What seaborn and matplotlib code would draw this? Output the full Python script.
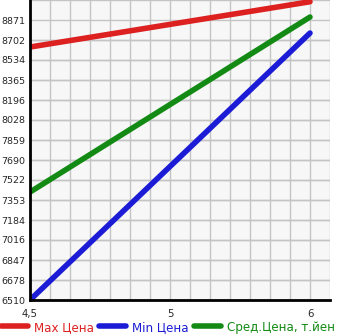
import matplotlib
matplotlib.use("Agg")
import matplotlib.pyplot as plt
import seaborn as sns
import pandas as pd
import numpy as np

# ---- data ----
x_labels = ["4,5", "5", "6"]
x_points = ["4,5", "6"]
max_price = [8643, 9025]
min_price = [6510, 8761]
avg_price = [7420, 8896]
series_names = ["Max Цена", "Min Цена", "Сред.Цена, т.йен"]
y_ticks = [6510, 6678, 6847, 7016, 7184, 7353, 7522, 7690, 7859, 8028,
           8196, 8365, 8534, 8702, 8871]
colors = ["#dd2020", "#1c1cd6", "#138a13"]

rows = []
for name, vals in zip(series_names, [max_price, min_price, avg_price]):
    for p, v in zip(x_points, vals):
        rows.append({"pos": x_labels.index(p), "value": v, "series": name})
df = pd.DataFrame(rows)

sns.set_style("white")
plt.rcParams['font.family'] = ['DejaVu Sans']

fig = plt.figure(figsize=(3.45, 3.35), dpi=100)
ax = fig.add_axes([30/345, 35/335, 300/345, 300/335])
ax.set_facecolor("#f7f7f7")

sns.lineplot(data=df, x="pos", y="value", hue="series", palette=colors,
             hue_order=series_names, linewidth=4, ax=ax, legend=True,
             solid_capstyle="round")

step_y = (y_ticks[-1] - y_ticks[0]) / (len(y_ticks) - 1)
ax.set_ylim(y_ticks[0], y_ticks[0] + step_y * len(y_ticks))
ax.set_xlim(0, 15/7)
ax.set_yticks(y_ticks)
ax.set_yticklabels([str(t) for t in y_ticks], fontsize=6.8)
ax.set_xticks(range(len(x_labels)))
ax.set_xticklabels(x_labels, fontsize=7.3)
ax.set_xticks(np.arange(0, 15/7 + 1e-6, 1/7), minor=True)
ax.set_yticks(np.arange(y_ticks[0], y_ticks[0] + step_y * 15 + 1, step_y), minor=True)
ax.grid(True, which="both", color="#c4c4c4", linewidth=1)
ax.set_axisbelow(True)
ax.tick_params(axis="both", which="both", direction="out", length=2.5,
               width=1, color="black", pad=1)
ax.tick_params(axis="x", pad=4)
ax.set_xlabel("")
ax.set_ylabel("")
for s in ["top", "right"]:
    ax.spines[s].set_visible(False)
ax.spines["left"].set_color("black")
ax.spines["left"].set_linewidth(2)
ax.spines["bottom"].set_color("black")
ax.spines["bottom"].set_linewidth(2)

h, l = ax.get_legend_handles_labels()
ax.get_legend().remove()
fig.legend(h, l, loc="lower left", bbox_to_anchor=(-0.005, -0.003), ncol=3,
           frameon=False, fontsize=8.6, labelcolor="linecolor",
           handlelength=2.3, handletextpad=0.45, columnspacing=0.45,
           borderaxespad=0, borderpad=0.2)

fig.savefig("out.png", dpi=100)
